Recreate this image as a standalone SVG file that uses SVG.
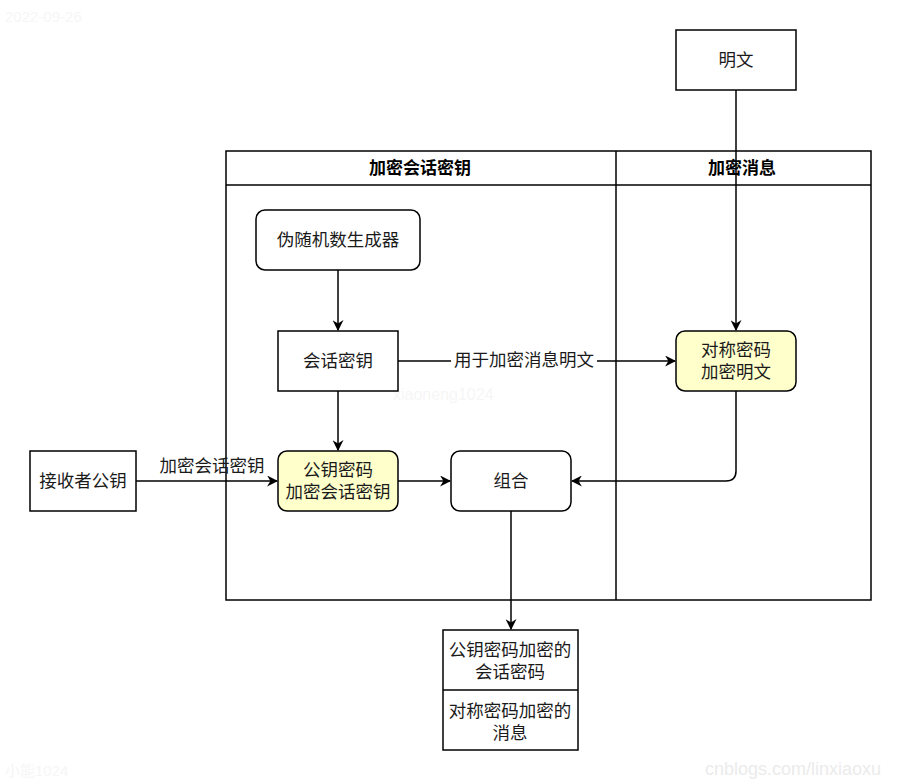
<svg xmlns="http://www.w3.org/2000/svg" width="902" height="782" viewBox="0 0 902 782">
<defs>
<marker id="arr" viewBox="0 0 10 10" refX="9" refY="5" markerWidth="11" markerHeight="11" markerUnits="userSpaceOnUse" orient="auto">
<path d="M0,0 L10,5 L0,10 L3,5 Z" fill="#000"/>
</marker>
<style>
text{font-family:"Liberation Sans","Noto Sans CJK SC",sans-serif;font-size:17.5px;fill:#1a1a1a;text-anchor:middle;dominant-baseline:central}
.hd{font-weight:bold;font-size:17px;fill:#000}
.box{fill:#fff;stroke:#000;stroke-width:1.5}
.yel{fill:#ffffcc;stroke:#000;stroke-width:1.5}
.lane{fill:none;stroke:#000;stroke-width:1.5}
.edge{fill:none;stroke:#000;stroke-width:1.5;marker-end:url(#arr)}
.lbl{fill:#fff;stroke:none}
.wm{fill:#f6f6f6;text-anchor:start;font-size:15px}
</style>
</defs>
<rect width="902" height="782" fill="#fff"/>
<g id="watermarks">
<text class="wm" x="5" y="16">2022-09-26</text>
<text class="wm" x="5" y="770">小能1024</text>
<text class="wm" x="705" y="769" style="font-size:18px;fill:#ebebeb">cnblogs.com/linxiaoxu</text>
<text class="wm" x="393" y="394" style="font-size:16px">xiaoneng1024</text>
</g>
<g id="lanes">
<rect class="lane" x="226" y="151" width="645" height="449"/>
<line class="lane" x1="226" y1="185" x2="871" y2="185"/>
<line class="lane" x1="616" y1="151" x2="616" y2="600"/>
<text class="hd" x="420" y="168">加密会话密钥</text>
<text class="hd" x="742" y="168">加密消息</text>
</g>
<g id="connectors">
<line class="edge" x1="736" y1="90" x2="736" y2="330"/>
<line class="edge" x1="338" y1="270" x2="338" y2="330"/>
<line class="edge" x1="338" y1="391" x2="338" y2="450"/>
<line class="edge" x1="398" y1="361" x2="675" y2="361"/>
<rect class="lbl" x="451" y="350" width="146" height="22"/>
<text x="524" y="360">用于加密消息明文</text>
<line class="edge" x1="136" y1="481" x2="277" y2="481"/>
<text x="212" y="466">加密会话密钥</text>
<line class="edge" x1="398" y1="481" x2="450" y2="481"/>
<path class="edge" d="M736,391 L736,471 Q736,481 726,481 L572,481"/>
<line class="edge" x1="511" y1="511" x2="511" y2="629"/>
</g>
<g id="n-mingwen">
<rect class="box" x="676" y="30" width="120" height="60"/>
<text x="736" y="60">明文</text>
</g>
<g id="n-prng">
<rect class="box" x="256" y="210" width="164" height="60" rx="9"/>
<text x="338" y="240">伪随机数生成器</text>
</g>
<g id="n-sessionkey">
<rect class="box" x="278" y="331" width="120" height="60"/>
<text x="338" y="361">会话密钥</text>
</g>
<g id="n-symenc">
<rect class="yel" x="676" y="331" width="120" height="60" rx="9"/>
<text x="736" y="350">对称密码</text>
<text x="736" y="372">加密明文</text>
</g>
<g id="n-receiver">
<rect class="box" x="30" y="451" width="106" height="60"/>
<text x="83" y="481">接收者公钥</text>
</g>
<g id="n-pubenc">
<rect class="yel" x="278" y="451" width="120" height="60" rx="9"/>
<text x="338" y="470">公钥密码</text>
<text x="338" y="492">加密会话密钥</text>
</g>
<g id="n-combine">
<rect class="box" x="451" y="451" width="120" height="60" rx="9"/>
<text x="511" y="481">组合</text>
</g>
<g id="n-output">
<rect class="box" x="443" y="630" width="135" height="120"/>
<line class="box" x1="443" y1="690" x2="578" y2="690"/>
<text x="510" y="650">公钥密码加密的</text>
<text x="510" y="672">会话密码</text>
<text x="510" y="711">对称密码加密的</text>
<text x="510" y="733">消息</text>
</g>
</svg>
